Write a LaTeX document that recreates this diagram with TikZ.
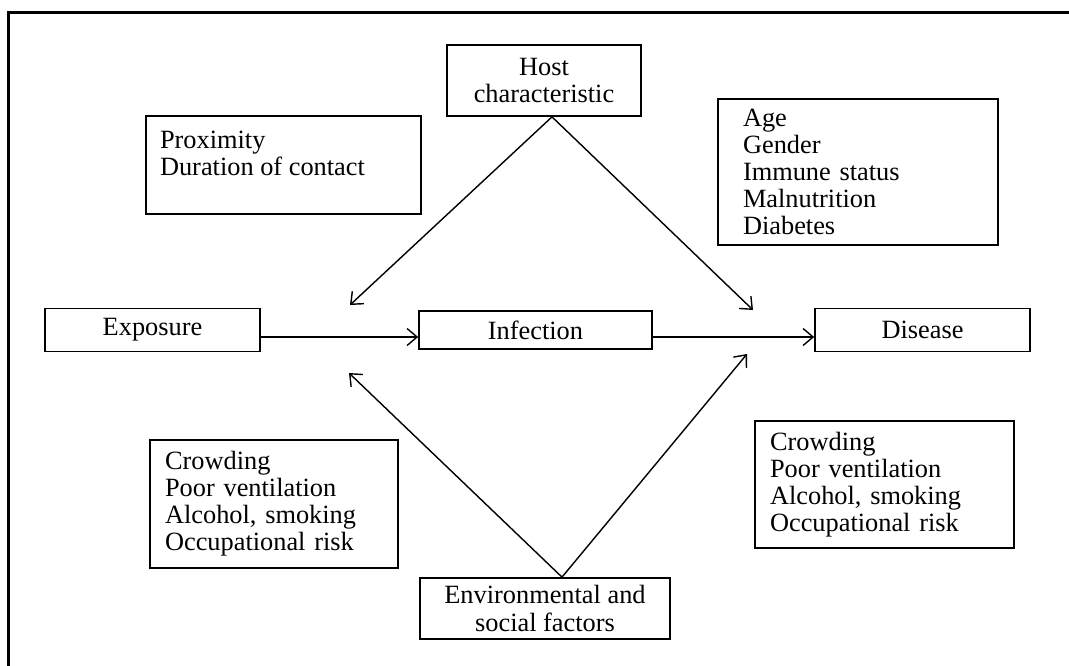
\documentclass[tikz,border=0pt]{standalone}
\usepackage{fontspec}
\setmainfont{Liberation Serif}
\usetikzlibrary{calc, positioning, arrows.meta}

\tikzset{
  box/.style={draw, rectangle, line width=1pt, inner sep=0pt,
    font=\fontsize{15}{15.4}\selectfont},
  listbox/.style={box, align=left},
  link/.style={->, line width=0.8pt}
}

\begin{document}
\begin{tikzpicture}[x=0.02cm, y=-0.02cm, >={Straight Barb[length=2mm,width=3.4mm]}]

\useasboundingbox (0,0) rectangle (1069,666);

% outer frame (top and left side)
\draw[line width=1.7pt] (1069,12.5) -- (8.5,12.5) -- (8.5,666);

% --- main chain ---
\node[box, minimum width=4.3cm, minimum height=0.86cm] (expo) at (152.5,330) {Exposure};
\node[box, minimum width=4.66cm, minimum height=0.76cm] (infect) at (535.5,330) {Infection};
\node[box, minimum width=4.3cm, minimum height=0.86cm] (dis) at (922.5,330) {Disease};

% --- host and environment ---
\node[box, align=center, minimum width=3.88cm, minimum height=1.42cm] (host) at (544,80.5) {Host\\characteristic};
\node[box, align=center, minimum width=5cm, minimum height=1.22cm] (env) at (545,608.5) {Environmental and\\social factors};

% --- factor lists ---
\node[box, minimum width=5.5cm, minimum height=1.96cm] (prox) at (283.5,165) {};
\node[listbox, draw=none, anchor=north west] (proxtext) at ([shift={(0.28cm,-0.3cm)}]prox.north west)
  {Proximity\\Duration of contact};
\node[listbox, inner xsep=0.5cm, text width=4.6cm, minimum height=2.92cm] (age) at (858,172)
  {Age\\Gender\\Immune status\\Malnutrition\\Diabetes};
\node[listbox, inner xsep=0.3cm, text width=4.36cm, minimum height=2.56cm] (crowdL) at (274,504)
  {Crowding\\Poor ventilation\\Alcohol, smoking\\Occupational risk};
\node[listbox, inner xsep=0.3cm, text width=4.58cm, minimum height=2.54cm] (crowdR) at (884.5,484.5)
  {Crowding\\Poor ventilation\\Alcohol, smoking\\Occupational risk};

% --- arrow ends ---
\coordinate (hl) at (350,305);
\coordinate (hr) at (753,310);
\coordinate (el) at (349,373);
\coordinate (er) at (747,354);

% --- connectors ---
\draw[link] ([yshift=-0.14cm]expo.east) -- ([yshift=-0.14cm]infect.west);
\draw[link] ([yshift=-0.14cm]infect.east) -- ([yshift=-0.14cm]dis.west);
\draw[link] ([xshift=0.16cm]host.south) -- (hl);
\draw[link] ([xshift=0.16cm]host.south) -- (hr);
\draw[link] ([xshift=0.34cm]env.north) -- (el);
\draw[link] ([xshift=0.34cm]env.north) -- (er);

\end{tikzpicture}
\end{document}
